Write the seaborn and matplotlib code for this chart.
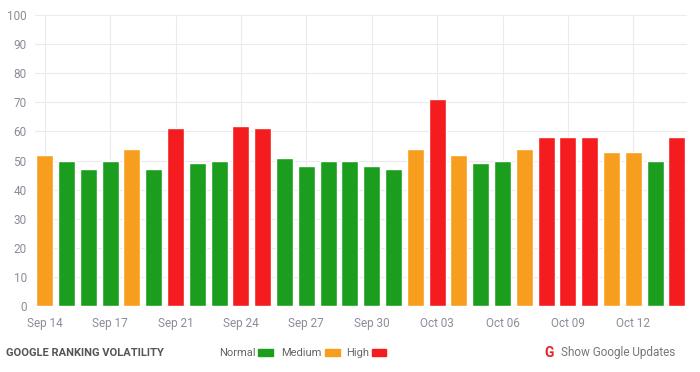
import matplotlib
matplotlib.use("Agg")
import matplotlib.pyplot as plt
import seaborn as sns
import pandas as pd
from matplotlib.patches import Rectangle

dates = ["Sep 14", "Sep 15", "Sep 16", "Sep 17", "Sep 18", "Sep 19",
         "Sep 21", "Sep 22", "Sep 23", "Sep 24", "Sep 25", "Sep 26",
         "Sep 27", "Sep 28", "Sep 29", "Sep 30", "Oct 01", "Oct 02",
         "Oct 03", "Oct 04", "Oct 05", "Oct 06", "Oct 07", "Oct 08",
         "Oct 09", "Oct 10", "Oct 11", "Oct 12", "Oct 13", "Oct 14"]
values = [52, 50, 47, 50, 54, 47, 61, 49, 50, 62, 61, 51, 48, 50, 50,
          48, 47, 54, 71, 52, 49, 50, 54, 58, 58, 58, 53, 53, 50, 58]
levels = ["Medium", "Normal", "Normal", "Normal", "Medium", "Normal",
          "High", "Normal", "Normal", "High", "High", "Normal", "Normal",
          "Normal", "Normal", "Normal", "Normal", "Medium", "High",
          "Medium", "Normal", "Normal", "Medium", "High", "High", "High",
          "Medium", "Medium", "Normal", "High"]
tick_labels = ["Sep 14", "Sep 17", "Sep 21", "Sep 24", "Sep 27", "Sep 30",
               "Oct 03", "Oct 06", "Oct 09", "Oct 12"]
level_names = ["Normal", "Medium", "High"]
colors = {"Normal": "#1b9e1e", "Medium": "#f89e1f", "High": "#f41c1f"}

df = pd.DataFrame({"date": dates, "value": values, "level": levels})

sns.set_theme(style="white")
plt.rcParams["font.family"] = ["Roboto", "DejaVu Sans"]

fig = plt.figure(figsize=(7, 3.72), dpi=100)
ax = fig.add_axes([0.05, 0.177, 0.931, 0.783])

sns.barplot(data=df, x="date", y="value", hue="level", order=dates,
            hue_order=level_names, palette=colors, dodge=False,
            width=0.78, legend=False, ax=ax, saturation=1, zorder=3)

ax.set_ylim(0, 100)
ax.set_yticks(range(0, 101, 10))
ax.set_xlim(-0.45, len(dates) - 0.55)
tick_pos = [dates.index(t) for t in tick_labels]
ax.set_xticks(tick_pos)
ax.set_xticklabels(tick_labels)
ax.tick_params(axis="both", length=0, labelsize=8.5, colors="#8a8d99")
ax.tick_params(axis="x", pad=8)
ax.tick_params(axis="y", pad=6)
ax.grid(True, color="#ebebef", linewidth=0.8, zorder=0)
ax.set_axisbelow(True)
for s in ax.spines.values():
    s.set_visible(False)
ax.set_xlabel("")
ax.set_ylabel("")

# Footer
fig.text(0.008, 0.052, "GOOGLE RANKING VOLATILITY", fontsize=8, fontweight="bold",
         color="#555555", va="center", ha="left")

legend_items = [("Normal", 0.366, 0.369), ("Medium", 0.460, 0.464), ("High", 0.527, 0.531)]
for name, tx, bx in legend_items:
    fig.text(tx, 0.052, name, fontsize=8, color="#666666", va="center", ha="right")
    fig.patches.append(Rectangle((bx, 0.044), 0.021, 0.018, transform=fig.transFigure,
                                 color=colors[name], figure=fig))

fig.text(0.778, 0.052, "G", fontsize=10, fontweight="bold", color="#e0262b",
         va="center", ha="left")
fig.text(0.802, 0.052, "Show Google Updates", fontsize=8.5, color="#777777",
         va="center", ha="left")

fig.savefig("out.png", dpi=100, facecolor="white")
